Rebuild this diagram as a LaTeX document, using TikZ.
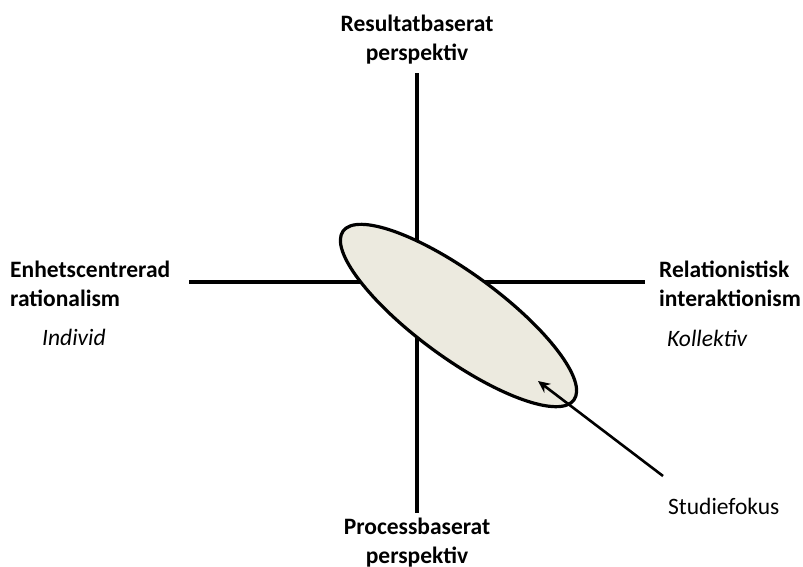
\documentclass[tikz,border=0pt]{standalone}
\usepackage{fontspec}
\setmainfont{Carlito}
\usetikzlibrary{shapes.geometric,arrows.meta}
\begin{document}
\begin{tikzpicture}[x=1pt,y=-1pt,
  axis/.style={line width=3.2pt},
  lbl/.style={font=\fontsize{23.5}{29}\selectfont\bfseries, inner sep=0pt, align=center},
  lbll/.style={font=\fontsize{23.5}{28.5}\selectfont\bfseries, inner sep=0pt, align=left},
  sub/.style={font=\fontsize{23.5}{28}\selectfont\itshape, inner sep=0pt},
  note/.style={font=\fontsize{23.5}{28}\selectfont, inner sep=0pt}]
\useasboundingbox (0,0) rectangle (803,566);
% axes
\coordinate (top) at (417,73);
\coordinate (bot) at (417,513);
\coordinate (lft) at (189,282);
\coordinate (rgt) at (645,282);
\draw[axis] (top) -- (bot);
\draw[axis] (lft) -- (rgt);
% focus ellipse
\node (focus) [draw, line width=3.2pt, fill={rgb,255:red,236;green,234;blue,223},
  ellipse, minimum width=286pt, minimum height=85pt, inner sep=0pt, rotate=-36.2]
  at (458.5,315.5) {};
% axis labels (anchored at the baseline of the last line)
\node (res) [lbl, anchor=base] at (417,60) {Resultatbaserat\\perspektiv};
\node (proc) [lbl, anchor=base] at (417,563) {Processbaserat\\perspektiv};
\node (enh) [lbll, anchor=base west] at (10,306) {Enhetscentrerad\\rationalism};
\node (rel) [lbll, anchor=base west] at (659,306) {Relationistisk\\interaktionism};
\node (ind) [sub, anchor=base west] at (42,345) {Individ};
\node (kol) [sub, anchor=base west] at (667,346) {Kollektiv};
% study focus pointer
\node (stud) [note, anchor=base west] at (668,514) {Studiefokus};
\coordinate (tail) at (663,476);
\coordinate (head) at (538,381);
\draw[line width=2.6pt, -{Stealth[length=12pt,width=11pt]}] (tail) -- (head);
\end{tikzpicture}
\end{document}
